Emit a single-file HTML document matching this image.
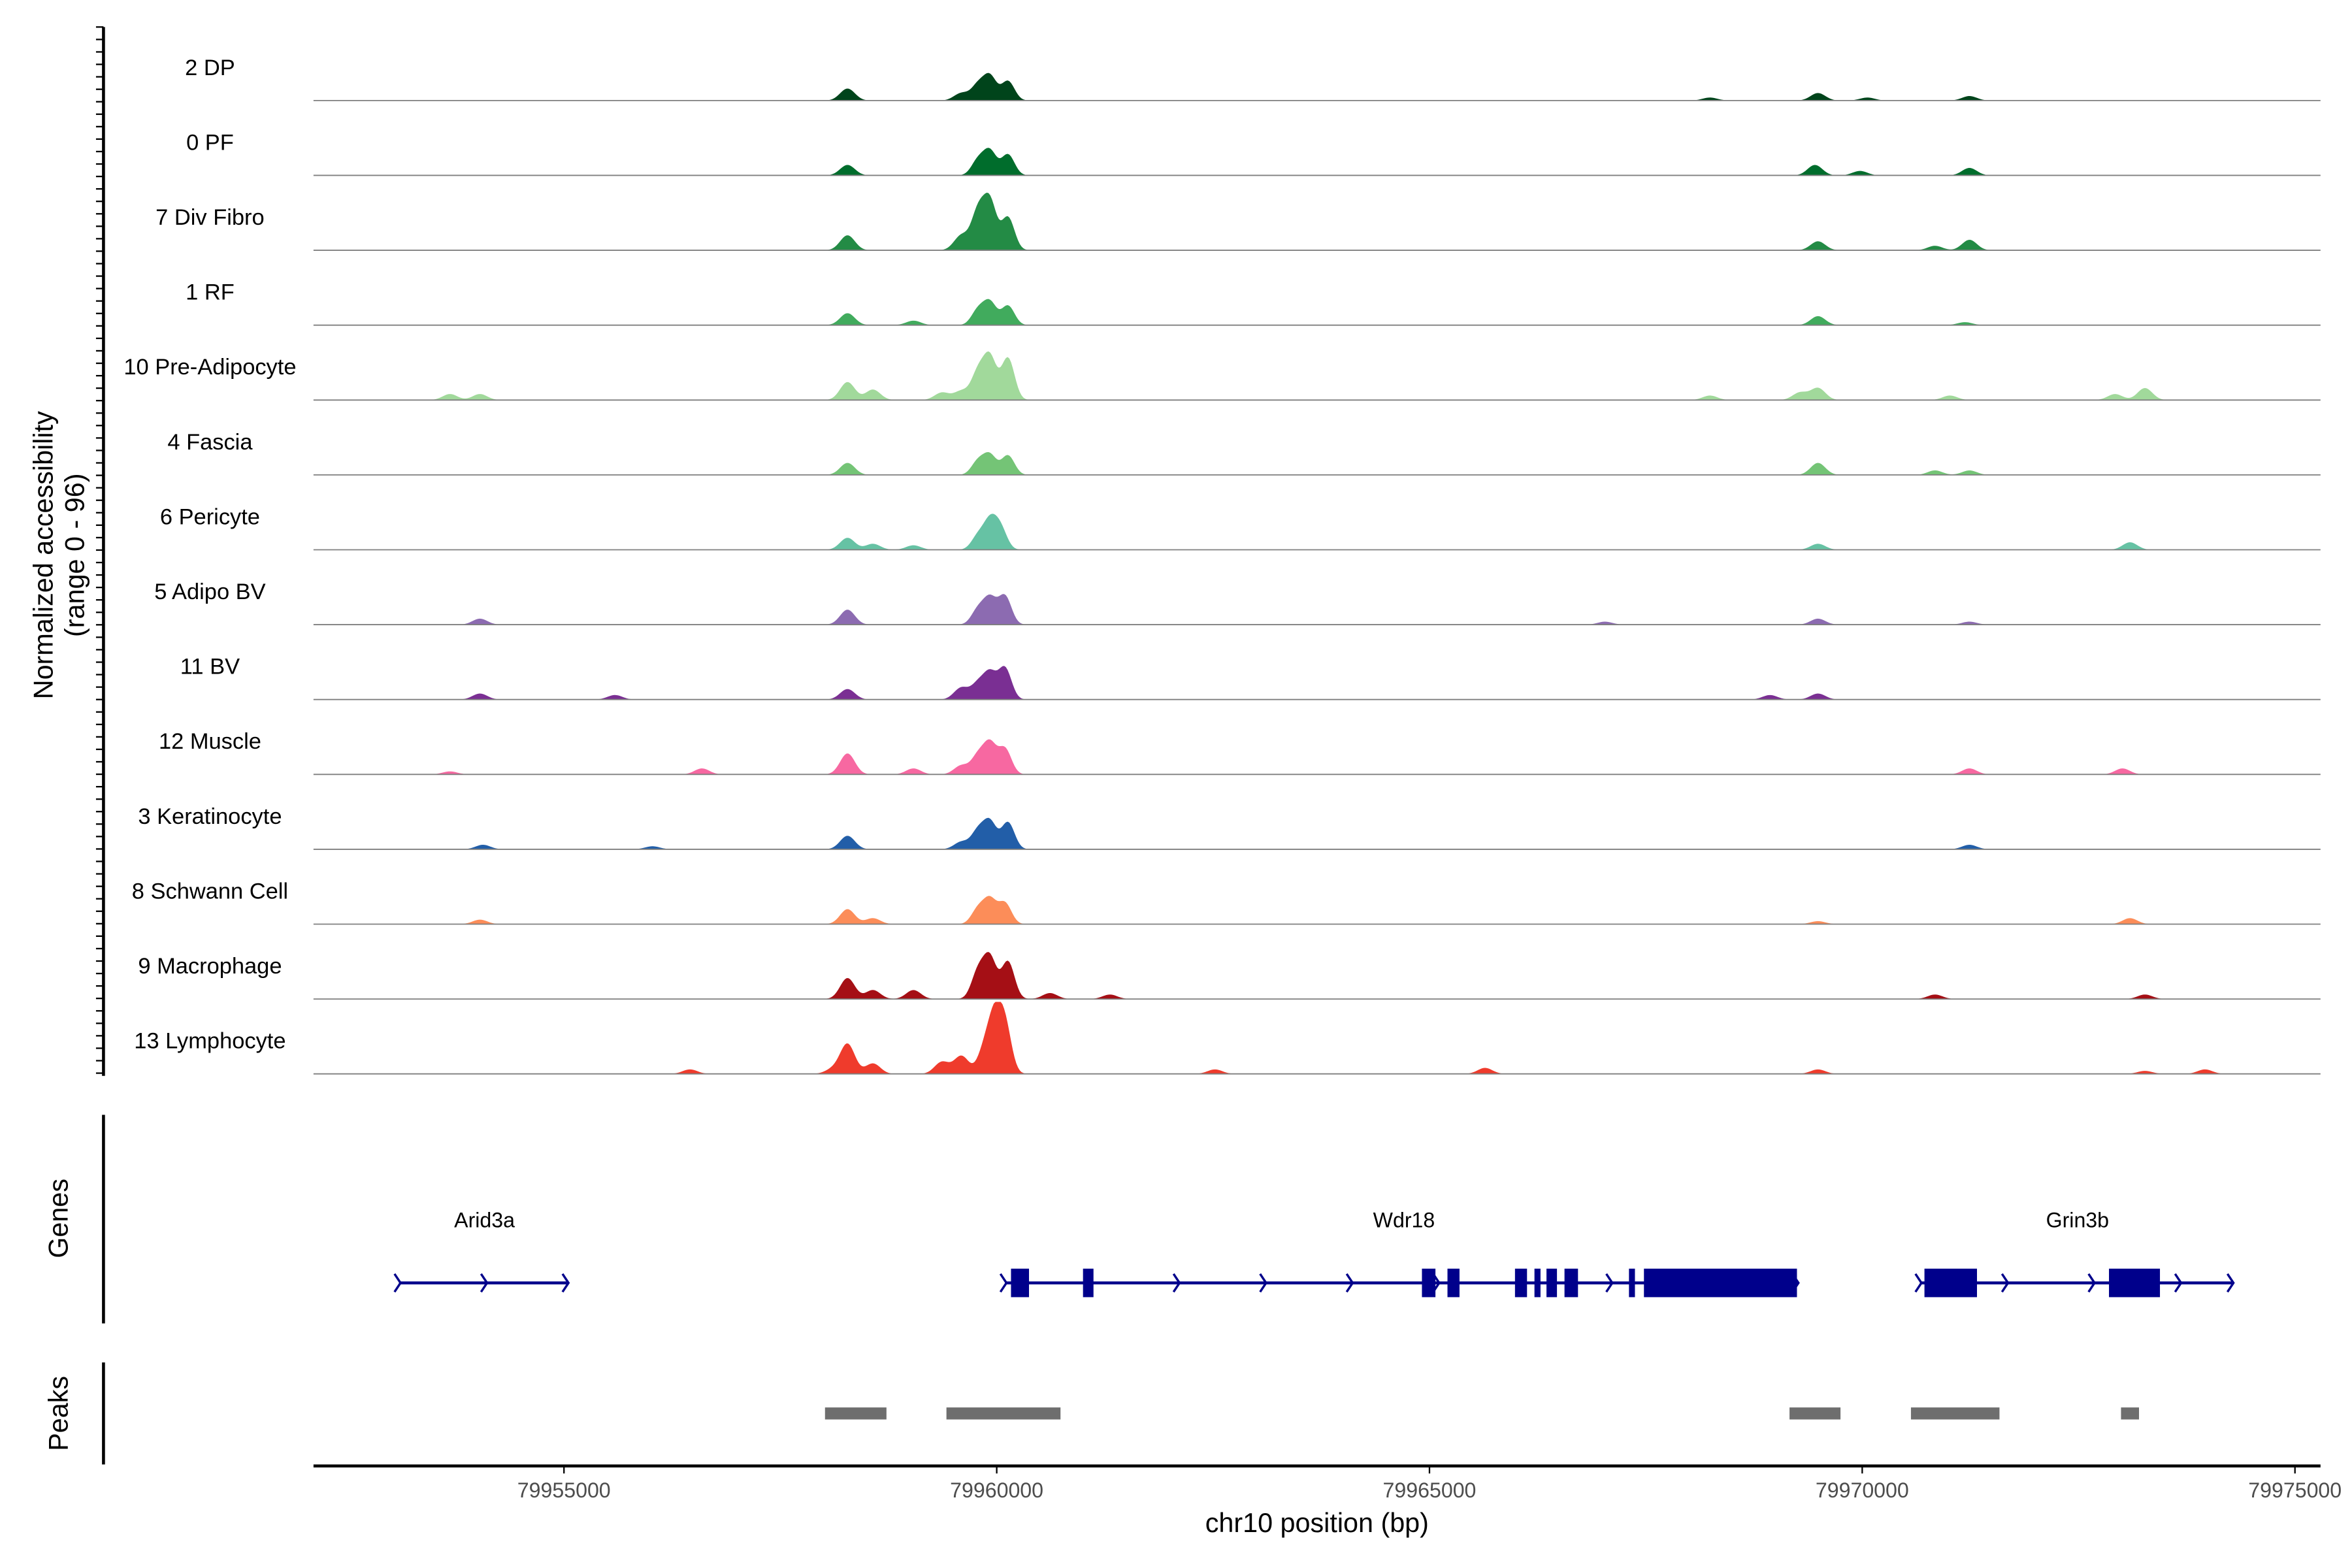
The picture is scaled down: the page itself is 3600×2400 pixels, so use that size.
<!DOCTYPE html>
<html><head><meta charset="utf-8">
<style>html,body{margin:0;padding:0;background:#fff}svg{display:block}text{font-family:"Liberation Sans",sans-serif}</style>
</head><body>
<svg id="fig" width="3600" height="2400" viewBox="0 0 1568 1045" preserveAspectRatio="none" xmlns="http://www.w3.org/2000/svg">
<rect width="1568" height="1045" fill="#fff"/>
<g id="tracks"></g>
<g id="genes"></g>
<g id="peaks"></g>
<g id="axes"></g>
</svg>
<script>
// ---- data ----
const trackNames = ["2 DP","0 PF","7 Div Fibro","1 RF","10 Pre-Adipocyte","4 Fascia","6 Pericyte","5 Adipo BV","11 BV","12 Muscle","3 Keratinocyte","8 Schwann Cell","9 Macrophage","13 Lymphocyte"];
const trackColors = ["#00441b","#006d2c","#238b45","#41ab5d","#a1d99b","#74c476","#66c2a4","#8c6bb1","#7a2f93","#f768a1","#225ea8","#fc8d59","#a50f15","#ef3b2c"];
const peakPos = [
 [79959783,79959922,79960130,79958276,79959593,79969489,79971239,79968241,79970060],
 [79959783,79959922,79960130,79958276,79969454,79971239,79969974],
 [79959783,79959922,79960130,79958276,79959593,79969489,79971239,79970841],
 [79959783,79959922,79960130,79958276,79959038,79969489,79971187],
 [79959783,79959922,79960130,79958276,79958570,79959593,79959367,79953683,79954029,79969489,79969281,79973267,79972921,79971014,79968241],
 [79959783,79959922,79960130,79958276,79969489,79970841,79971239],
 [79959783,79959922,79960043,79958276,79958570,79959038,79969489,79973094],
 [79959783,79959922,79960095,79958276,79954029,79969489,79971239,79967028],
 [79959783,79959922,79960095,79958276,79959593,79954029,79955589,79969489,79968934],
 [79959783,79959922,79960095,79958276,79959038,79959593,79956594,79971239,79973007,79953683],
 [79959783,79959922,79960130,79958276,79959593,79956022,79954064,79971239],
 [79959783,79959922,79960095,79958276,79958570,79969489,79973094,79954029],
 [79959783,79959922,79960130,79958276,79958570,79959038,79960615,79961308,79970841,79973267],
 [79959853,79959974,79960095,79958276,79958570,79959593,79959367,79965642,79969489,79956456,79958102,79962522,79973267,79973960]
];
const peakHeight = [
 [20,32,26,16,10,10,6,4,4],
 [20,32,28,14,14,10,6],
 [50,64,44,20,20,12,14,6],
 [20,30,26,16,6,12,4],
 [36,56,56,24,14,12,10,8,8,16,10,16,8,6,6],
 [18,26,26,16,16,6,6],
 [18,36,28,16,8,6,8,10],
 [20,34,38,20,8,8,4,4],
 [20,34,42,14,16,8,6,8,6],
 [24,40,34,28,8,12,8,8,8,4],
 [24,36,36,18,10,4,6,6],
 [20,32,28,20,8,4,8,6],
 [36,54,50,28,12,12,8,6,6,6],
 [30,70,64,40,14,24,16,8,6,6,6,6,4,6]
];
const tickValues = [79955000,79960000,79965000,79970000,79975000];
const geneNames = ["Arid3a","Wdr18","Grin3b"];
const geneStart = [79953094,79960095,79970667];
const geneEnd = [79955035,79969246,79974272];
const exonStart = [79960165,79960997,79964913,79965208,79965988,79966213,79966352,79966560,79967305,79967478,79970719,79972851];
const exonEnd = [79960373,79961118,79965069,79965347,79966127,79966283,79966473,79966716,79967374,79969246,79971326,79973440];
const peakStart = [79958016,79959419,79969160,79970563,79972990];
const peakEnd = [79958726,79960737,79969749,79971586,79973198];
const yMax = 96;

// ---- scales ----
var NS="http://www.w3.org/2000/svg";
var X0=209,X1=1547,BP0=79952106,BP1=79975295;
function xs(b){return X0+(b-BP0)/(BP1-BP0)*(X1-X0);}
var BASE0=67, STEP=49.9, TRACKH=48;
function ys(i,v){return BASE0+i*STEP - v/yMax*TRACKH;}
function el(tag,attrs,parent,text){var e=document.createElementNS(NS,tag);for(var k in attrs)e.setAttribute(k,attrs[k]);if(text!==undefined)e.textContent=text;parent.appendChild(e);return e;}

var gT=document.getElementById('tracks');
for(var i=0;i<trackNames.length;i++){
  var g=el('g',{},gT);
  
  
  var pts=[X0.toFixed(2)+','+ys(i,0).toFixed(2)];
  for(var b=BP0;b<=BP1;b+=20){
    var v=0;
    for(var k=0;k<peakPos[i].length;k++){
      var sd=k<3?75:85;
      var z=(b-peakPos[i][k])/sd;
      v+=peakHeight[i][k]*Math.exp(-0.5*z*z);
    }
    pts.push(xs(b).toFixed(2)+','+ys(i,Math.min(v,yMax)).toFixed(2));
  }
  pts.push(X1.toFixed(2)+','+ys(i,0).toFixed(2));
  var poly=el('polygon',{points:pts.join(' ')},g);
  poly.style.fill=trackColors[i];
  
  
  var bl=el('line',{x1:X0,x2:X1,y1:ys(i,0),y2:ys(i,0),stroke:'#7f7f7f','stroke-width':0.8},g);
  
  
  var lb=el('text',{x:140,y:ys(i,0)-17,'text-anchor':'middle','font-size':15,fill:'#000'},g,trackNames[i]);
  
  
}

// genes
var gG=document.getElementById('genes');
var GY=855;
var labelX=[323,936,1385];
for(var gi=0;gi<geneNames.length;gi++){
  var n=geneNames[gi];
  var gx1=xs(geneStart[gi]),gx2=xs(geneEnd[gi]);
  var ln=el('line',{x1:gx1,x2:gx2,y1:GY,y2:GY,stroke:'#00008b','stroke-width':2},gG);
  
  
  for(var ab=geneStart[gi];ab<=geneEnd[gi]+1;ab+=1000){
    var ax=xs(Math.min(ab,geneEnd[gi]));
    var a=el('path',{d:'M'+(ax-3)+','+(GY-6)+'L'+(ax+1)+','+GY+'L'+(ax-3)+','+(GY+6),stroke:'#00008b','stroke-width':1.5,fill:'none'},gG);
    
    
  }
  var ae=xs(geneEnd[gi]);
  var a2=el('path',{d:'M'+(ae-3)+','+(GY-6)+'L'+(ae+1)+','+GY+'L'+(ae-3)+','+(GY+6),stroke:'#00008b','stroke-width':1.5,fill:'none'},gG);
  
  
  var tl=el('text',{x:labelX[gi],y:818,'text-anchor':'middle','font-size':14},gG,n);
  
  
}
for(var ei=0;ei<exonStart.length;ei++){
  var r=el('rect',{x:xs(exonStart[ei]),y:GY-9.5,width:Math.max(xs(exonEnd[ei])-xs(exonStart[ei]),2),height:19,fill:'#00008b'},gG);
  
  
}

// peaks
var gP=document.getElementById('peaks');
for(var pi=0;pi<peakStart.length;pi++){
  var pr=el('rect',{x:xs(peakStart[pi]),y:938,width:xs(peakEnd[pi])-xs(peakStart[pi]),height:8,fill:'#6e6e6e'},gP);
  
  
}

// axes
var gA=document.getElementById('axes');
function line(x1,y1,x2,y2,w,name){var l=el('line',{x1:x1,y1:y1,x2:x2,y2:y2,stroke:'#000','stroke-width':w},gA);return l;}
line(69,18,69,717,2,'y-axis-line');
for(var ty=18;ty<=717;ty+=8.3){line(64,ty,69,ty,1,'y-axis-tick');}
line(69,743,69,882,2,'genes-axis-line');
line(69,908,69,976,2,'peaks-axis-line');
line(209,977,1547,977,2,'x-axis-line');
for(var ti=0;ti<tickValues.length;ti++){
  var tv=tickValues[ti];
  line(xs(tv),977,xs(tv),982,1,'x-axis-tick');
  var tt=el('text',{x:xs(tv),y:998,'text-anchor':'middle','font-size':14,fill:'#4d4d4d'},gA,String(tv));
  
  
}
var tx=el('text',{x:878,y:1021,'text-anchor':'middle','font-size':18},gA,'chr10 position (bp)');


tx=el('text',{x:0,y:0,'text-anchor':'middle','font-size':18,transform:'translate(35,370) rotate(-90)'},gA,'Normalized accessibility');


tx=el('text',{x:0,y:0,'text-anchor':'middle','font-size':18,transform:'translate(56,370) rotate(-90)'},gA,'(range 0 - 96)');


tx=el('text',{x:0,y:0,'text-anchor':'middle','font-size':18,transform:'translate(45,812) rotate(-90)'},gA,'Genes');


tx=el('text',{x:0,y:0,'text-anchor':'middle','font-size':18,transform:'translate(45,942) rotate(-90)'},gA,'Peaks');


</script>
</body></html>
